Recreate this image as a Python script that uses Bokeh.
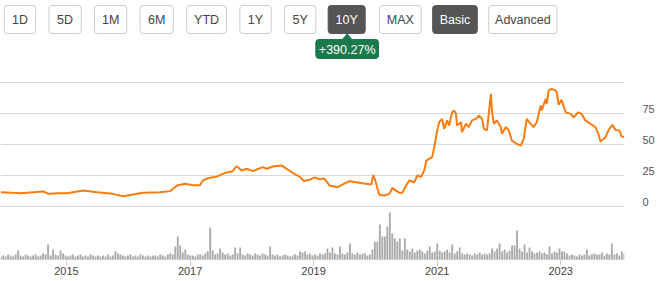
import pandas as pd
from bokeh.plotting import figure
from bokeh.layouts import column
from bokeh.models import Range1d, FixedTicker, ColumnDataSource
from bokeh.core.properties import value
from bokeh.embed import file_html
from bokeh.resources import INLINE

FONT = "Liberation Sans"

# ---------------- data ----------------
price_dates = [
    "2013-12-08", "2014-02-10", "2014-04-05", "2014-06-20", "2014-08-18", "2014-09-17", "2014-11-10",
    "2015-01-06", "2015-04-10", "2015-07-01", "2015-10-03", "2015-12-01", "2016-01-30", "2016-03-30",
    "2016-07-07", "2016-09-05", "2016-10-16", "2016-12-02", "2017-01-18", "2017-02-28", "2017-03-18",
    "2017-04-16", "2017-06-08", "2017-07-13", "2017-08-12", "2017-09-10", "2017-10-03", "2017-11-02",
    "2017-12-01", "2018-01-06", "2018-03-06", "2018-03-30", "2018-05-04", "2018-06-26", "2018-07-26",
    "2018-08-30", "2018-10-10", "2018-11-05", "2018-12-08", "2019-01-06", "2019-02-05", "2019-03-06",
    "2019-04-05", "2019-05-22", "2019-07-31", "2019-09-10", "2019-10-16", "2019-12-08", "2019-12-20",
    "2020-01-06", "2020-01-24", "2020-02-22", "2020-03-24", "2020-04-10", "2020-05-22", "2020-06-08",
    "2020-07-01", "2020-07-19", "2020-08-18", "2020-09-05", "2020-09-28", "2020-10-16", "2020-10-28",
    "2020-11-14", "2020-12-02", "2020-12-14", "2021-01-01", "2021-01-12", "2021-01-30", "2021-02-11",
    "2021-02-28", "2021-03-12", "2021-03-30", "2021-04-10", "2021-04-22", "2021-04-28", "2021-05-22",
    "2021-05-27", "2021-06-20", "2021-07-07", "2021-07-25", "2021-08-18", "2021-09-05", "2021-09-23",
    "2021-10-04", "2021-10-22", "2021-11-14", "2021-11-20", "2021-12-02", "2021-12-20", "2022-01-12",
    "2022-01-18", "2022-02-11", "2022-02-28", "2022-03-18", "2022-04-16", "2022-05-10", "2022-05-27",
    "2022-06-14", "2022-07-07", "2022-07-25", "2022-08-12", "2022-09-05", "2022-09-11", "2022-10-04",
    "2022-10-10", "2022-10-22", "2022-11-08", "2022-12-02", "2022-12-08", "2022-12-20", "2023-01-06",
    "2023-01-30", "2023-02-28", "2023-03-18", "2023-04-16", "2023-05-04", "2023-05-27", "2023-06-26",
    "2023-07-25", "2023-08-12", "2023-08-24", "2023-09-23", "2023-10-10", "2023-11-02", "2023-11-20",
    "2023-12-14", "2023-12-26", "2024-01-12",
]
price_values = [
    11.5, 11.0, 10.7, 11.5, 12.1, 10.2, 10.6,
    10.7, 12.9, 11.5, 10.2, 8.3, 9.7, 11.0,
    11.5, 12.4, 16.9, 18.3, 17.2, 17.2, 21.0,
    22.8, 24.2, 26.3, 27.7, 28.5, 32.5, 29.0,
    30.4, 28.5, 31.7, 30.4, 32.3, 33.1, 30.4,
    27.2, 24.0, 20.5, 21.5, 23.5, 22.0, 22.5,
    17.0, 15.6, 20.4, 19.5, 18.8, 17.7, 25.5,
    18.3, 9.4, 8.9, 10.2, 15.0, 11.0, 11.0,
    16.9, 21.0, 19.5, 25.0, 24.0, 29.0, 37.0,
    38.4, 39.8, 47.8, 61.3, 68.0, 70.7, 62.6,
    69.4, 65.3, 76.0, 77.4, 74.7, 65.3, 68.0,
    60.0, 66.7, 64.0, 69.4, 70.7, 73.4, 70.7,
    62.6, 61.3, 90.9, 77.4, 66.7, 69.4, 64.0,
    58.6, 64.0, 61.3, 53.2, 50.5, 49.2, 54.6,
    70.7, 66.7, 64.0, 68.0, 81.5, 77.4, 86.9,
    82.8, 93.5, 94.9, 93.5, 92.2, 82.0, 86.0,
    76.0, 74.7, 72.0, 76.0, 74.7, 69.4, 66.7,
    64.0, 58.6, 52.4, 55.9, 61.3, 65.9, 61.8,
    61.3, 56.5, 56.0,
]

volume_start = "2013-12-08"
volume_end = "2024-01-12"
volume_values = [
    3, 4, 3, 5, 4, 3, 5, 9, 4, 3, 5, 4, 3, 4, 5, 3, 4, 6, 5, 15,
    4, 10, 5, 4, 9, 6, 4, 3, 4, 5, 3, 4, 5, 3, 4, 3, 5, 4, 3, 4,
    3, 4, 3, 5, 3, 4, 8, 6, 5, 4, 3, 4, 5, 3, 4, 3, 5, 4, 3, 4,
    3, 4, 4, 3, 5, 4, 3, 5, 6, 5, 13, 23, 14, 7, 10, 5, 4, 4, 3, 5,
    5, 4, 6, 8, 32, 9, 5, 6, 11, 7, 5, 6, 4, 5, 12, 6, 12, 5, 4, 6,
    5, 4, 6, 5, 4, 6, 5, 4, 13, 5, 4, 5, 3, 4, 5, 4, 3, 4, 5, 4,
    8, 7, 8, 5, 6, 4, 5, 4, 6, 5, 6, 11, 7, 12, 6, 5, 13, 6, 5, 7,
    16, 6, 5, 7, 5, 6, 6, 4, 5, 10, 18, 18, 35, 23, 23, 33, 47, 26, 21, 18,
    21, 9, 21, 10, 8, 11, 7, 9, 10, 8, 6, 9, 13, 7, 8, 16, 9, 7, 8, 10,
    7, 15, 6, 8, 12, 6, 5, 6, 5, 4, 6, 5, 7, 5, 6, 5, 6, 11, 8, 11,
    16, 8, 10, 7, 9, 14, 14, 29, 11, 8, 15, 7, 12, 8, 6, 7, 8, 6, 7, 5,
    13, 6, 8, 7, 11, 8, 8, 6, 4, 5, 4, 3, 5, 4, 5, 10, 4, 5, 6, 5,
    5, 7, 4, 6, 5, 16, 5, 6, 4, 8, 6,
]

price_ticks = [0, 25, 50, 75]
grid_ticks = [0, 25, 50, 75, 100]
year_ticks = ["2015", "2017", "2019", "2021", "2023"]

buttons = ["1D", "5D", "1M", "6M", "YTD", "1Y", "5Y", "10Y", "MAX", "Basic", "Advanced"]
active_buttons = ["10Y", "Basic"]
change_text = "+390.27%"

# ---------------- top bar (buttons) ----------------
btn_left = [4, 51, 99, 147, 196, 252, 299, 345, 399, 455, 514]
btn_right = [37, 85, 133, 182, 238, 285, 332, 384, 443, 502, 586]
btn_fill = ["#555555" if b in active_buttons else "#ffffff" for b in buttons]
btn_line = ["#555555" if b in active_buttons else "#cccccc" for b in buttons]
btn_text = ["#ffffff" if b in active_buttons else "#444444" for b in buttons]

top = figure(width=657, height=62, x_range=Range1d(0, 657), y_range=Range1d(62, 0),
             x_axis_location=None, y_axis_location=None, toolbar_location=None,
             output_backend="svg", min_border=0)
top.grid.visible = False
top.outline_line_color = None
bsrc = ColumnDataSource(dict(
    left=btn_left, right=btn_right, top=[5] * len(buttons), bottom=[33] * len(buttons),
    fill=btn_fill, line=btn_line, tcol=btn_text, label=buttons,
    xc=[(l + r) / 2 for l, r in zip(btn_left, btn_right)], yc=[19.5] * len(buttons)))
top.quad(left="left", right="right", top="top", bottom="bottom", source=bsrc,
         fill_color="fill", line_color="line", line_width=1, border_radius=3)
top.text(x="xc", y="yc", text="label", source=bsrc, text_color="tcol",
         text_font=value(FONT), text_font_size="12.5px", text_align="center",
         text_baseline="middle")

# badge under active range button
top.quad(left=[332], right=[398], top=[39], bottom=[58], fill_color="#1a7a4c",
         line_color="#1a7a4c", border_radius=3)
top.patch(x=[359.5, 365, 370.5], y=[39.5, 33.5, 39.5], fill_color="#1a7a4c", line_color="#1a7a4c")
top.text(x=[365], y=[49], text=[change_text], text_color="#ffffff", text_font=value(FONT),
         text_font_size="12.5px", text_align="center", text_baseline="middle")

# ---------------- main chart ----------------
pdates = pd.to_datetime(price_dates)
vdates = pd.date_range(volume_start, volume_end, periods=len(volume_values))

px_per_unit = 1.24          # price axis scale
frame_h = 197
zero_from_bottom = 53       # px between frame bottom and price 0
ymin = -zero_from_bottom / px_per_unit
ymax = (frame_h - zero_from_bottom) / px_per_unit

p = figure(width=657, height=219, x_axis_type="datetime", y_axis_location="right",
           x_range=Range1d(pd.Timestamp("2013-12-07"), pd.Timestamp("2024-01-13")),
           y_range=Range1d(ymin, ymax), toolbar_location=None, output_backend="svg",
           min_border_left=0, min_border_right=31, min_border_top=0, min_border_bottom=22)
p.extra_y_ranges = {"vol": Range1d(0, frame_h)}
p.outline_line_color = None
p.background_fill_color = "#ffffff"
p.border_fill_color = "#ffffff"

p.vbar(x=vdates, top=volume_values, width=11 * 86400000, y_range_name="vol",
       fill_color="#aaaaaa", line_color=None)
p.line(pdates, price_values, line_color="#fb7d12", line_width=2)

# grid
p.xgrid.visible = False
p.ygrid.ticker = FixedTicker(ticks=grid_ticks)
p.ygrid.grid_line_color = "#d8d8d8"
p.ygrid.grid_line_width = 1

# right price axis (labels sit slightly above their grid lines)
shift = 4.5 / px_per_unit
label_pos = [t + shift for t in price_ticks]
ya = p.yaxis[0]
ya.ticker = FixedTicker(ticks=label_pos)
ya.major_label_overrides = {pos: str(t) for pos, t in zip(label_pos, price_ticks)}
ya.axis_line_color = None
ya.major_tick_line_color = None
ya.minor_tick_line_color = None
ya.major_label_standoff = 12
ya.major_label_text_font = FONT
ya.major_label_text_font_size = "11px"
ya.major_label_text_color = "#555555"

# bottom time axis
tick_ms = [pd.Timestamp(f"{y}-01-01").value // 10**6 for y in year_ticks]
xa = p.xaxis[0]
xa.ticker = FixedTicker(ticks=tick_ms)
xa.major_label_overrides = {ms: y for ms, y in zip(tick_ms, year_ticks)}
xa.axis_line_color = "#cccccc"
xa.major_tick_line_color = "#cccccc"
xa.minor_tick_line_color = None
xa.major_tick_out = 6
xa.major_tick_in = 0
xa.major_label_standoff = 1
xa.major_label_text_font = FONT
xa.major_label_text_font_size = "11px"
xa.major_label_text_color = "#444444"

layout = column(top, p, spacing=0)
open("out.html", "w").write(file_html(layout, INLINE))
